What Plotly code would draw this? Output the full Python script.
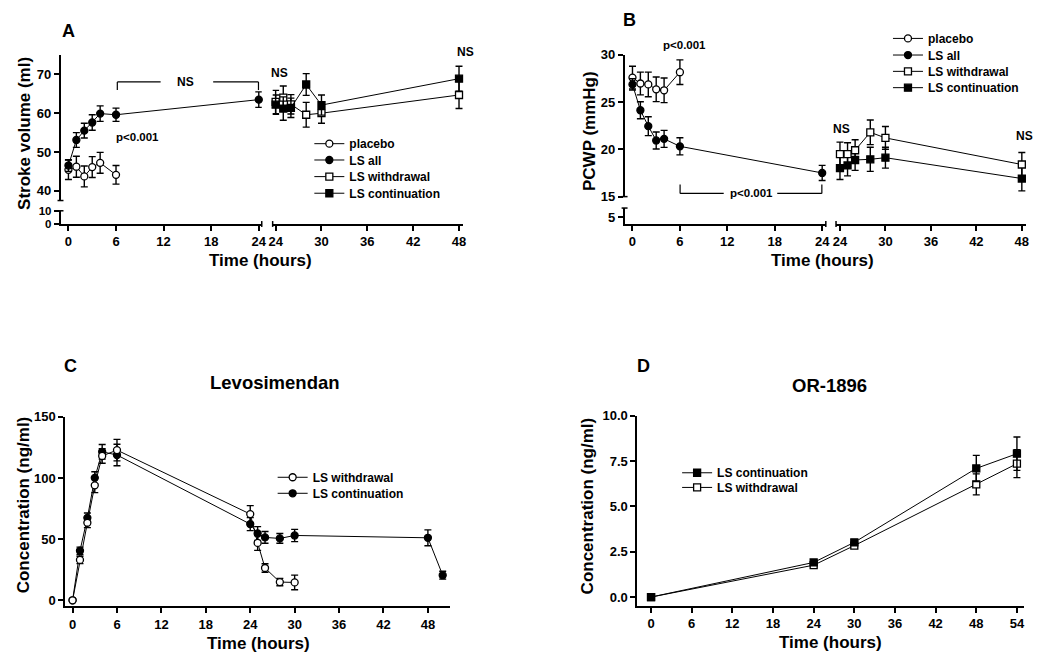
import plotly.graph_objects as go

W, H = 1039, 664
def px(x):
    return x / W
def py(y):
    return 1 - y / H

FONT = "Liberation Sans, Arial, sans-serif"

# ---------------- Panel A : Stroke volume ----------------
a_t_early = [0, 1, 2, 3, 4, 6]
a_placebo = [45.4, 46.2, 43.7, 46.1, 47.2, 44.1]
a_placebo_err = [2.5, 2.7, 2.7, 2.7, 2.7, 2.4]
a_t_all = [0, 1, 2, 3, 4, 6, 24]
a_ls_all = [46.5, 53.1, 55.5, 57.6, 59.9, 59.6, 63.5]
a_ls_all_err = [1.5, 1.9, 1.9, 2.0, 2.0, 1.7, 2.0]
a_t_late = [24, 25, 26, 28, 30, 48]
a_withdrawal = [62.9, 64.0, 62.3, 59.6, 60.0, 64.7]
a_withdrawal_err = [3.0, 3.0, 2.5, 3.2, 2.6, 3.5]
a_continuation = [62.2, 61.2, 61.4, 67.4, 62.1, 68.9]
a_continuation_err = [2.5, 3.0, 2.5, 2.8, 2.6, 3.2]

# ---------------- Panel B : PCWP ----------------
b_t_early = [0, 1, 2, 3, 4, 6]
b_placebo = [27.57, 26.95, 26.85, 26.33, 26.23, 28.14]
b_placebo_err = [1.2, 1.2, 1.3, 1.3, 1.3, 1.3]
b_t_all = [0, 1, 2, 3, 4, 6, 24]
b_ls_all = [26.85, 24.12, 22.44, 20.93, 21.1, 20.31, 17.5]
b_ls_all_err = [0.6, 0.9, 1.0, 0.9, 0.9, 0.9, 0.8]
b_t_late = [24, 25, 26, 28, 30, 48]
b_withdrawal = [19.49, 19.49, 19.9, 21.79, 21.2, 18.39]
b_withdrawal_err = [1.27, 1.2, 1.1, 1.3, 1.2, 1.27]
b_continuation = [18.01, 18.29, 18.87, 18.94, 19.11, 16.91]
b_continuation_err = [1.2, 1.1, 1.1, 1.27, 1.1, 1.3]

# ---------------- Panel C : Levosimendan ----------------
c_t_withdrawal = [0, 1, 2, 3, 4, 6, 24, 25, 26, 28, 30]
c_withdrawal = [0, 33.0, 63.4, 94.0, 118.0, 122.8, 70.5, 46.9, 26.4, 14.9, 14.6]
c_withdrawal_err = [0, 3, 4, 6, 6, 8.8, 6.9, 6.1, 3.5, 3.0, 6.0]
c_t_continuation = [0, 1, 2, 3, 4, 6, 24, 25, 26, 28, 30, 48, 50]
c_continuation = [0, 40.5, 67.4, 100.1, 121.4, 118.8, 62.3, 54.6, 51.4, 50.6, 53.0, 51.1, 20.5]
c_continuation_err = [0, 3, 4, 5, 6, 8.8, 5.3, 5.6, 4.8, 4.0, 5.0, 6.5, 3.2]

# ---------------- Panel D : OR-1896 ----------------
d_t = [0, 24, 30, 48, 54]
d_continuation = [0, 1.91, 3.02, 7.10, 7.91]
d_continuation_err = [0, 0.15, 0.15, 0.72, 0.92]
d_withdrawal = [0, 1.76, 2.84, 6.22, 7.36]
d_withdrawal_err = [0, 0.12, 0.12, 0.58, 0.77]

# tick labels
a_xticks_left = [0, 6, 12, 18, 24]
a_xticks_right = [24, 30, 36, 42, 48]
a_yticks_upper = [40, 50, 60, 70]
a_yticks_lower = [0, 10]
b_yticks_upper = [15, 20, 25, 30]
b_yticks_lower = [5]
c_xticks = [0, 6, 12, 18, 24, 30, 36, 42, 48]
c_yticks = [0, 50, 100, 150]
d_xticks = [0, 6, 12, 18, 24, 30, 36, 42, 48, 54]
d_yticks = [0, 2.5, 5, 7.5, 10]
d_yticktext = ["0.0", "2.5", "5.0", "7.5", "10.0"]

OPEN_C = dict(symbol="circle", color="white", size=7, line=dict(color="black", width=1.3))
FILL_C = dict(symbol="circle", color="black", size=7, line=dict(color="black", width=1.3))
OPEN_S = dict(symbol="square", color="white", size=7, line=dict(color="black", width=1.3))
FILL_S = dict(symbol="square", color="black", size=7, line=dict(color="black", width=1.3))

def err(arr):
    return dict(type="data", array=arr, visible=True, color="black", thickness=1.4, width=3.5)

fig = go.Figure()

def add(x, y, e, marker, name, xa, ya, legend):
    fig.add_trace(go.Scatter(
        x=x, y=y, error_y=err(e), mode="lines+markers", marker=marker,
        line=dict(color="black", width=1), name=name, xaxis=xa, yaxis=ya,
        legend=legend, showlegend=True, cliponaxis=False))

# Panel A
add(a_t_early, a_placebo, a_placebo_err, OPEN_C, "placebo", "x", "y", "legend")
add(a_t_all, a_ls_all, a_ls_all_err, FILL_C, "LS all", "x", "y", "legend2")
add(a_t_late, a_withdrawal, a_withdrawal_err, OPEN_S, "LS withdrawal", "x2", "y", "legend3")
add(a_t_late, a_continuation, a_continuation_err, FILL_S, "LS continuation", "x2", "y", "legend4")
# Panel B
add(b_t_early, b_placebo, b_placebo_err, OPEN_C, "placebo", "x3", "y3", "legend5")
add(b_t_all, b_ls_all, b_ls_all_err, FILL_C, "LS all", "x3", "y3", "legend6")
add(b_t_late, b_continuation, b_continuation_err, FILL_S, "LS continuation", "x4", "y3", "legend8")
add(b_t_late, b_withdrawal, b_withdrawal_err, OPEN_S, "LS withdrawal", "x4", "y3", "legend7")
# Panel C
add(c_t_continuation, c_continuation, c_continuation_err, FILL_C, "LS continuation", "x5", "y5", "legend10")
add(c_t_withdrawal, c_withdrawal, c_withdrawal_err, OPEN_C, "LS withdrawal", "x5", "y5", "legend9")
# Panel D
add(d_t, d_withdrawal, d_withdrawal_err, OPEN_S, "LS withdrawal", "x6", "y6", "legend12")
add(d_t, d_continuation, d_continuation_err, FILL_S, "LS continuation", "x6", "y6", "legend11")

# empty traces so the lower (broken) y-axis segments get their own subplots
for xa, ya in [("x", "y2"), ("x2", "y2"), ("x3", "y4"), ("x4", "y4")]:
    fig.add_trace(go.Scatter(x=[], y=[], xaxis=xa, yaxis=ya, showlegend=False, hoverinfo="skip"))

AX = dict(showline=True, linecolor="black", linewidth=1.5, ticks="outside", ticklen=5,
          tickwidth=1.5, tickcolor="black", showgrid=False, zeroline=False, visible=True,
          tickfont=dict(size=13, family=FONT, color="black", weight="bold"), fixedrange=True)

def xax(x0, x1, rng, ticks, anchor, ticktext=None):
    d = dict(AX, domain=[px(x0), px(x1)], range=rng, tickmode="array", tickvals=ticks, anchor=anchor)
    if ticktext:
        d["ticktext"] = ticktext
    return d

def yax(y_bottom, y_top, rng, ticks, anchor, ticktext=None, size=13):
    d = dict(AX, domain=[py(y_bottom), py(y_top)], range=rng, tickmode="array", tickvals=ticks, anchor=anchor)
    d["tickfont"] = dict(size=size, family=FONT, color="black", weight="bold")
    if ticktext:
        d["ticktext"] = ticktext
    return d

layout = dict(
    width=W, height=H, margin=dict(l=0, r=0, t=0, b=0),
    paper_bgcolor="white", plot_bgcolor="white",
    font=dict(family=FONT, size=13, color="black", weight="bold"),
    xaxis=xax(57, 260, [-1.0, 24.375], a_xticks_left, "y2"),
    xaxis2=xax(271, 463, [23.61, 48.52], a_xticks_right, "y2"),
    yaxis=yax(198, 49, [37.48, 75.04], a_yticks_upper, "x"),
    yaxis2=yax(222, 208.5, [0, 10], a_yticks_lower, "x", size=11.5),
    xaxis3=xax(626, 829, [-1.0, 24.46], a_xticks_left, "y4"),
    xaxis4=xax(839.3, 1031, [23.48, 48.56], a_xticks_right, "y4"),
    yaxis3=yax(194, 48.7, [15, 30], b_yticks_upper, "x3"),
    yaxis4=yax(222, 205.7, [0, 12.16], b_yticks_lower, "x3"),
    xaxis5=xax(61.7, 450, [-1.0, 51.0], c_xticks, "y5"),
    yaxis5=yax(613.3, 419.3, [-5.03, 150], c_yticks, "x5"),
    xaxis6=xax(638.7, 1029.3, [-2.05, 55.1], d_xticks, "y6"),
    yaxis6=yax(612.7, 418.3, [-0.486, 10], d_yticks, "x6", d_yticktext),
)

TEXT_OFF = 40   # legend text starts this far right of the legend box
CENTER_OFF = 15  # first legend item centre below the legend box top

def leg(text_x, center_y):
    return dict(x=px(text_x - TEXT_OFF), y=py(center_y - CENTER_OFF), xanchor="left", yanchor="top",
                bgcolor="rgba(0,0,0,0)",
                font=dict(size=12, family=FONT, color="black", weight="bold"),
                itemwidth=30, tracegroupgap=0)

legend_pos = {
    "legend": (348, 140), "legend2": (348, 156.7), "legend3": (348, 173.7), "legend4": (348, 190.7),
    "legend5": (931.7, 32.3), "legend6": (931.7, 49.3), "legend7": (931.7, 66), "legend8": (931.7, 82.7),
    "legend9": (311, 481.3), "legend10": (311, 497.7),
    "legend11": (719, 476.7), "legend12": (719, 491.7),
}
for k, (tx, cy) in legend_pos.items():
    layout[k] = leg(tx, cy)

annotations = []
def txt(x, y, s, size, angle=0):
    annotations.append(dict(x=px(x), y=py(y), xref="paper", yref="paper", text=s, showarrow=False,
                            xanchor="center", yanchor="middle", textangle=angle,
                            font=dict(size=size, family=FONT, color="black", weight="bold")))

# panel letters & titles
txt(65, 25, "A", 18)
txt(631, 13, "B", 18)
txt(67.5, 367, "C", 18)
txt(645, 367, "D", 18)
txt(273, 384, "Levosimendan", 18.5)
txt(832.5, 387, "OR-1896", 18.5)
# axis titles
txt(259, 259, "Time (hours)", 17)
txt(826, 259, "Time (hours)", 17)
txt(256.5, 651, "Time (hours)", 17)
txt(833.5, 650, "Time (hours)", 17)
txt(20, 129, "Stroke volume (ml)", 17, -90)
txt(590, 127, "PCWP (mmHg)", 17, -90)
txt(20, 509, "Concentration (ng/ml)", 17, -90)
txt(589, 510, "Concentration (ng/ml)", 17, -90)
# significance labels
txt(183, 77, "NS", 12)
txt(135, 133, "p<0.001", 11.5)
txt(278, 68, "NS", 12)
txt(465.5, 46, "NS", 12)
txt(686, 39, "p<0.001", 11.5)
txt(754, 190.5, "p<0.001", 11.5)
txt(845, 125, "NS", 12)
txt(1029, 132, "NS", 12)
layout["annotations"] = annotations

shapes = []
def seg(x0, y0, x1, y1, w=1.5):
    shapes.append(dict(type="line", xref="paper", yref="paper", x0=px(x0), y0=py(y0),
                       x1=px(x1), y1=py(y1), line=dict(color="black", width=w)))

# axis break marks
seg(54, 198, 60, 198)
seg(54, 208.5, 60, 208.5)
seg(260, 219, 260, 225)
seg(271, 219, 271, 225)
seg(623, 194, 629, 194)
seg(623, 205.7, 629, 205.7)
seg(829, 219, 829, 225)
seg(839.3, 219, 839.3, 225)
# brackets
seg(114.3, 85, 114.3, 76.7, 1.2)
seg(114.3, 76.7, 158, 76.7, 1.2)
seg(211, 76.7, 256.7, 76.7, 1.2)
seg(256.7, 76.7, 256.7, 85, 1.2)
seg(682, 181.7, 682, 190.7, 1.2)
seg(682, 190.7, 726, 190.7, 1.2)
seg(780, 190.7, 825, 190.7, 1.2)
seg(825, 190.7, 825, 181.7, 1.2)
layout["shapes"] = shapes

fig.update_layout(**layout)
fig.write_html("out.html")
